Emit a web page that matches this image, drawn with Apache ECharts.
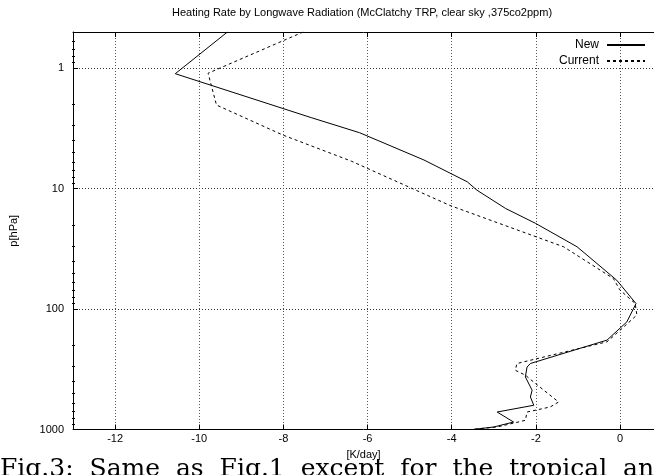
<!DOCTYPE html>
<html>
<head>
<meta charset="utf-8">
<script src="https://cdn.jsdelivr.net/npm/echarts@6/dist/echarts.min.js"></script>
<style>html,body{margin:0;padding:0;background:#fff}#c{width:654px;height:475px}</style>
</head>
<body>
<div id="c"></div>
<script>
// Heating rate [K/day] vs pressure [hPa]
const newRate   = [-9.33, -10.57, -7.34, -6.19, -4.66, -3.63, -3.40, -2.72, -2.01, -1.02, -0.08, 0.38, 0.16, -0.31, -2.13, -2.21, -2.25, -2.09, -2.13, -2.05, -2.92, -2.53, -3.00, -3.50];
const newPres   = [0.5, 1.11, 2.57, 3.43, 5.78, 8.77, 10.3, 14.6, 19.4, 30.4, 57.5, 90, 128, 181, 283, 303, 366, 472, 537, 629, 716, 867, 953, 1000];
const curRate   = [-7.53, -9.79, -9.59, -8.01, -6.39, -4.04, -1.34, -0.16, 0.00, 0.36, 0.40, 0.00, -0.31, -2.45, -2.49, -2.25, -2.01, -1.46, -1.66, -2.21, -2.25, -2.92, -3.55];
const curPres   = [0.5, 1.10, 2.02, 3.59, 5.90, 13.8, 30.4, 55.7, 69.6, 89.8, 112, 150, 187, 283, 322, 354, 415, 591, 650, 716, 839, 953, 1000];
const xTicks    = [-12, -10, -8, -6, -4, -2, 0];
const yTicks    = [1, 10, 100, 1000];
const yMinor    = [0.6, 0.7, 0.8, 0.9, 2, 3, 4, 5, 6, 7, 8, 9, 20, 30, 40, 50, 60, 70, 80, 90, 200, 300, 400, 500, 600, 700, 800, 900];
const seriesNames = ['New', 'Current'];
const titleText = 'Heating Rate by Longwave Radiation (McClatchy TRP, clear sky ,375co2ppm)';
const captionText = 'Fig.3:  Same  as  Fig.1  except  for  the  tropical  and';

const zip = (a, b) => a.map((v, i) => [v, b[i]]);
const font = 'Liberation Sans, Arial, sans-serif';
const chart = echarts.init(document.getElementById('c'), null, {renderer: 'canvas'});
const gridLeft = 72, W = 654;
const plotW = W - gridLeft;
const xMin = -13, xMax = 0.807;
const yBase = {type: 'log', logBase: 10, min: 0.5, max: 1000, inverse: true};
chart.setOption({
  animation: false,
  backgroundColor: '#fff',
  textStyle: {fontFamily: font, color: '#000'},
  grid: {left: gridLeft, top: 32, bottom: 45.5, right: 0, show: false},
  legend: {
    data: seriesNames, orient: 'vertical', right: 8, top: 39, align: 'right', padding: 0,
    itemWidth: 38, itemHeight: 8, itemGap: 4,
    itemStyle: {opacity: 0},
    textStyle: {fontFamily: font, fontSize: 12, color: '#000', padding: [0, 3, 0, 0]}
  },
  graphic: [
    {type: 'text', x: 362, y: 7, style: {text: titleText, fill: '#000', font: '11px ' + font, align: 'center', verticalAlign: 'top'}},
    {type: 'text', x: 0, y: 457, style: {text: captionText, fill: '#000', font: '25px "DejaVu Serif", "Liberation Serif", serif', verticalAlign: 'top'}}
  ],
  xAxis: [
    {
      type: 'value', min: xMin, max: xMax, position: 'bottom',
      name: '[K/day]', nameLocation: 'middle', nameGap: 18,
      nameTextStyle: {fontFamily: font, fontSize: 11, color: '#000'},
      axisLine: {show: true, onZero: false, lineStyle: {color: '#000', width: 1}},
      axisTick: {show: true, inside: true, length: 5, customValues: xTicks, lineStyle: {color: '#000'}},
      axisLabel: {customValues: xTicks, fontSize: 11, color: '#000', margin: 4},
      splitLine: {show: true, lineStyle: {color: '#555', type: [1, 2], width: 1}}
    },
    {
      type: 'value', min: xMin, max: xMax, position: 'top',
      axisLine: {show: true, onZero: false, lineStyle: {color: '#000', width: 1}},
      axisTick: {show: true, inside: true, length: 5, customValues: xTicks, lineStyle: {color: '#000'}},
      axisLabel: {show: false},
      splitLine: {show: false}
    }
  ],
  yAxis: [
    Object.assign({}, yBase, {
      position: 'left',
      name: 'p[hPa]', nameLocation: 'middle', nameGap: 54, nameRotate: 90,
      nameTextStyle: {fontFamily: font, fontSize: 11, color: '#000'},
      axisLine: {show: true, onZero: false, lineStyle: {color: '#000', width: 1}},
      axisTick: {show: true, inside: true, length: 5, customValues: yTicks, lineStyle: {color: '#000'}},
      axisLabel: {customValues: yTicks, fontSize: 11, color: '#000', margin: 9, formatter: v => String(v)},
      splitLine: {show: true, lineStyle: {color: '#333', type: [1, 2], width: 1}}
    }),
    Object.assign({}, yBase, {
      position: 'right', offset: -plotW,
      axisLine: {show: false, onZero: false},
      axisTick: {show: true, inside: false, length: 3, customValues: yMinor, lineStyle: {color: '#000'}},
      axisLabel: {show: false},
      splitLine: {show: false}
    })
  ],
  series: [
    {
      name: seriesNames[0], type: 'line', xAxisIndex: 0, yAxisIndex: 0,
      data: zip(newRate, newPres), showSymbol: false, symbol: 'none', clip: true,
      lineStyle: {color: '#000', width: 1}, itemStyle: {color: '#000'}
    },
    {
      name: seriesNames[1], type: 'line', xAxisIndex: 0, yAxisIndex: 0,
      data: zip(curRate, curPres), showSymbol: false, symbol: 'none', clip: true,
      lineStyle: {color: '#000', width: 1, type: [3, 3]}, itemStyle: {color: '#000'}
    }
  ]
});
</script>
</body>
</html>
